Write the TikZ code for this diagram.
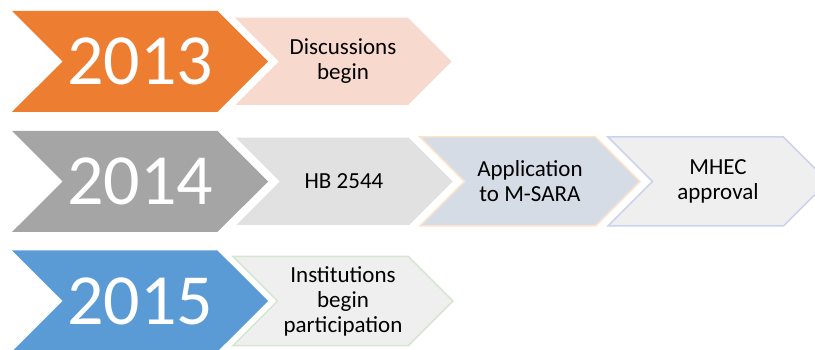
\documentclass[tikz,border=0pt]{standalone}
\usepackage{fontspec}
\setmainfont{Carlito}
\usetikzlibrary{shapes.symbols}
\definecolor{orangeA}{HTML}{ED7D31}
\definecolor{orangeB}{HTML}{F8D9CE}
\definecolor{grayA}{HTML}{A5A5A5}
\definecolor{grayB}{HTML}{E1E1E1}
\definecolor{slateB}{HTML}{D6DCE5}
\definecolor{peachL}{HTML}{FBE3CC}
\definecolor{paleB}{HTML}{EFEFEF}
\definecolor{lavenderL}{HTML}{CDD2EC}
\definecolor{blueA}{HTML}{5B9BD5}
\definecolor{greenL}{HTML}{D7E6D0}
\tikzset{
  chevron/.style={signal, signal from=west, signal to=east, signal pointer angle=90,
    inner sep=0pt, outer sep=0pt},
  yearbox/.style={chevron, minimum width=256pt, minimum height=101pt, text=white,
    font=\fontsize{72}{72}\selectfont},
  eventbox/.style={chevron, minimum width=220pt, minimum height=89pt, line width=1.5pt,
    align=center, font=\fontsize{23}{25}\selectfont}
}

\begin{document}
\begin{tikzpicture}[x=1pt, y=-1pt]
\useasboundingbox (0,0) rectangle (815,350);
% years
\node[yearbox, fill=orangeA] (y13) at (140,61.5)  {2013};
\node[yearbox, fill=grayA]   (y14) at (140,181.5) {2014};
\node[yearbox, fill=blueA]   (y15) at (140,301)   {2015};
% 2013
\node[eventbox, fill=orangeB, draw=white] (talks) at (343,61.5) {Discussions\\begin};
% 2014
\node[eventbox, fill=grayB, draw=white]      (hb)   at (344,181.5) {HB 2544};
\node[eventbox, fill=slateB, draw=peachL]    (msara) at (530,181.5) {Application\\to M-SARA};
\node[eventbox, fill=paleB, draw=lavenderL]  (mhec) at (718,181.5) {MHEC\\approval};
% 2015
\node[eventbox, fill=paleB, draw=greenL] (join) at (343,301) {Institutions\\begin\\participation};
\end{tikzpicture}
\end{document}
